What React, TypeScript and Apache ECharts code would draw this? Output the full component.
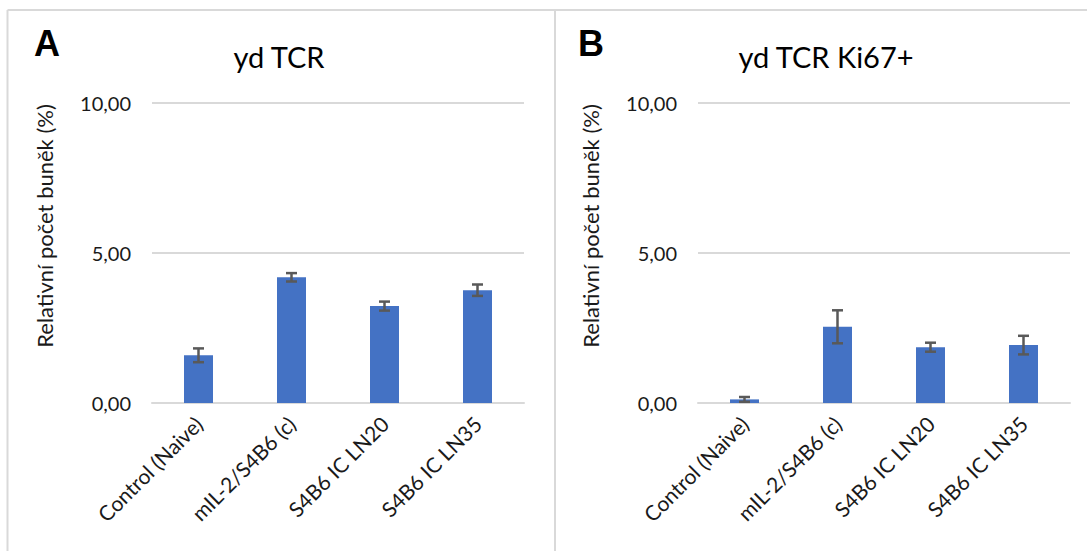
import React, { useEffect, useRef } from "react";
import * as echarts from "echarts";

const categories = ["Control (Naive)", "mIL-2/S4B6 (c)", "S4B6 IC LN20", "S4B6 IC LN35"];
const valuesA = [1.59, 4.19, 3.23, 3.76];
const errorsA = [0.23, 0.14, 0.15, 0.19];
const valuesB = [0.12, 2.54, 1.86, 1.93];
const errorsB = [0.08, 0.55, 0.15, 0.31];
const titleA = "yd TCR";
const titleB = "yd TCR Ki67+";
const yAxisName = "Relativní počet buněk (%)";
const yMin = 0;
const yMax = 10;
const yInterval = 5;

const FONT = "Lato";
const TEXT = "#1a1a1a";
const GRID = "#d9d9d9";
const BAR = "#4472c4";
const ERR = "#595959";

function errData(vals: number[], errs: number[]) {
  return vals.map((v, i) => [i, Math.max(0, v - errs[i]), v + errs[i]]);
}

function renderErr(params: any, api: any) {
  const x = api.value(0);
  const lo = api.coord([x, api.value(1)]);
  const hi = api.coord([x, api.value(2)]);
  const w = 5.5;
  const style = { stroke: ERR, lineWidth: 2.5 };
  return {
    type: "group",
    children: [
      { type: "line", shape: { x1: hi[0], y1: hi[1], x2: lo[0], y2: lo[1] }, style },
      { type: "line", shape: { x1: hi[0] - w, y1: hi[1], x2: hi[0] + w, y2: hi[1] }, style },
      { type: "line", shape: { x1: lo[0] - w, y1: lo[1], x2: lo[0] + w, y2: lo[1] }, style },
    ],
  };
}

export default function App() {
  const ref = useRef<HTMLDivElement>(null);
  useEffect(() => {
    if (!ref.current) return;
    const chart = echarts.init(ref.current, null, { renderer: "svg" });
    const xAxisBase = (gridIndex: number) => ({
      type: "category",
      gridIndex,
      data: categories,
      axisLine: { lineStyle: { color: GRID, width: 2 } },
      axisTick: { show: false },
      axisLabel: { rotate: 45, interval: 0, margin: 17, color: TEXT, fontFamily: FONT, fontSize: 21 },
    });
    const yAxisBase = (gridIndex: number) => ({
      type: "value",
      gridIndex,
      min: yMin,
      max: yMax,
      interval: yInterval,
      axisLine: { show: false },
      axisTick: { show: false },
      splitLine: { lineStyle: { color: GRID, width: 2 } },
      axisLabel: {
        margin: 21,
        color: TEXT,
        fontFamily: FONT,
        fontSize: 20,
        formatter: (v: number) => v.toFixed(2).replace(".", ","),
      },
    });
    const lineStyle = { stroke: GRID, lineWidth: 2 };
    chart.setOption({
      animation: false,
      backgroundColor: "#fff",
      grid: [
        { left: 152, right: 563, top: 103, bottom: 148 },
        { left: 698, right: 17, top: 103, bottom: 148 },
      ],
      xAxis: [xAxisBase(0), xAxisBase(1)],
      yAxis: [yAxisBase(0), yAxisBase(1)],
      series: [
        { type: "bar", xAxisIndex: 0, yAxisIndex: 0, data: valuesA, barWidth: 29, itemStyle: { color: BAR } },
        { type: "custom", xAxisIndex: 0, yAxisIndex: 0, data: errData(valuesA, errorsA), renderItem: renderErr, z: 5 },
        { type: "bar", xAxisIndex: 1, yAxisIndex: 1, data: valuesB, barWidth: 29, itemStyle: { color: BAR } },
        { type: "custom", xAxisIndex: 1, yAxisIndex: 1, data: errData(valuesB, errorsB), renderItem: renderErr, z: 5 },
      ],
      graphic: [
        { type: "line", shape: { x1: 7.5, y1: 10, x2: 1087, y2: 10 }, style: lineStyle, silent: true },
        { type: "line", shape: { x1: 7.5, y1: 10, x2: 7.5, y2: 551 }, style: lineStyle, silent: true },
        { type: "line", shape: { x1: 555, y1: 10, x2: 555, y2: 551 }, style: lineStyle, silent: true },
        {
          type: "text", x: 47, y: 43,
          style: { text: "A", fontFamily: "Liberation Sans", fontWeight: "bold", fontSize: 36, fill: "#000", align: "center", verticalAlign: "middle" },
        },
        {
          type: "text", x: 591, y: 43,
          style: { text: "B", fontFamily: "Liberation Sans", fontWeight: "bold", fontSize: 36, fill: "#000", align: "center", verticalAlign: "middle" },
        },
        {
          type: "text", x: 279, y: 56,
          style: { text: titleA, fontFamily: FONT, fontSize: 29, fill: "#000", align: "center", verticalAlign: "middle" },
        },
        {
          type: "text", x: 826, y: 56,
          style: { text: titleB, fontFamily: FONT, fontSize: 29, fill: "#000", align: "center", verticalAlign: "middle" },
        },
        {
          type: "text", x: 44, y: 226, rotation: Math.PI / 2,
          style: { text: yAxisName, fontFamily: FONT, fontSize: 22, fill: TEXT, align: "center", verticalAlign: "middle" },
        },
        {
          type: "text", x: 590, y: 226, rotation: Math.PI / 2,
          style: { text: yAxisName, fontFamily: FONT, fontSize: 22, fill: TEXT, align: "center", verticalAlign: "middle" },
        },
      ],
    });
    return () => chart.dispose();
  }, []);
  return <div ref={ref} style={{ position: "absolute", left: 0, top: 0, width: 1087, height: 551 }} />;
}
